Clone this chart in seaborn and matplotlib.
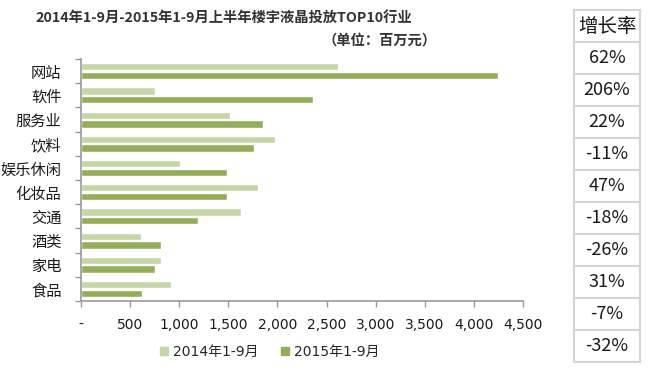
import numpy as np
import pandas as pd
import matplotlib
matplotlib.use('Agg')
import matplotlib.pyplot as plt
from matplotlib.patches import Rectangle
from matplotlib.ticker import FuncFormatter
import seaborn as sns

sns.set_theme(style='white')
plt.rcParams['font.family'] = ['Noto Sans CJK SC', 'DejaVu Sans']
num_font = ['DejaVu Sans', 'Noto Sans CJK SC']

# data
industries = ['网站', '软件', '服务业', '饮料', '娱乐休闲', '化妆品', '交通', '酒类', '家电', '食品']
y2014 = [2620, 750, 1515, 1980, 1010, 1805, 1625, 610, 810, 915]
y2015 = [4250, 2365, 1850, 1760, 1485, 1485, 1190, 810, 750, 625]
series = ['2014年1-9月', '2015年1-9月']
growth = ['62%', '206%', '22%', '-11%', '47%', '-18%', '-26%', '31%', '-7%', '-32%']
colors = ['#c5d6a6', '#93ad58']

df = pd.DataFrame({
    'industry': industries * 2,
    'value': y2014 + y2015,
    'period': [series[0]] * len(industries) + [series[1]] * len(industries),
})

fig = plt.figure(figsize=(6.5, 3.75), dpi=100)
ax = fig.add_axes([0.1246, 0.1973, 0.68, 0.6453])

sns.barplot(data=df, y='industry', x='value', hue='period', hue_order=series,
            order=industries, palette=colors, orient='h', width=0.72,
            ax=ax, legend=False, saturation=1)

# small gap between the two bars of a group
for p in ax.patches:
    h = p.get_height()
    p.set_height(h * 0.84)
    p.set_y(p.get_y() + h * 0.08)

ax.set_xlim(0, 4500)
ax.set_ylim(9.5, -0.5)
ax.set_xticks(np.arange(0, 4501, 500))
ax.xaxis.set_major_formatter(FuncFormatter(lambda v, pos: '-' if v == 0 else f'{int(v):,}'))
ax.set_xlabel('')
ax.set_ylabel('')

ax.set_yticks(np.arange(-0.5, 10, 1), minor=True)
ax.tick_params(axis='y', which='major', length=0, pad=14, labelsize=11, colors='#1a1a1a')
ax.tick_params(axis='y', which='minor', length=4, width=1, color='#999999', direction='out', left=True)
ax.tick_params(axis='x', length=4, width=1, color='#999999', direction='out', bottom=True,
               labelsize=10, pad=8, labelcolor='#1a1a1a')
for t in ax.get_xticklabels():
    t.set_family(num_font)

for s in ['top', 'right']:
    ax.spines[s].set_visible(False)
for s in ['left', 'bottom']:
    ax.spines[s].set_color('#999999')
    ax.spines[s].set_linewidth(1.2)

# titles
fig.text(35 / 650, 1 - 18 / 375, '2014年1-9月-2015年1-9月上半年楼宇液晶投放TOP10行业',
         ha='left', va='center', fontsize=10.3, fontweight='bold', color='#333333')
fig.text(437 / 650, 1 - 41 / 375, '（单位：百万元）', ha='right', va='center',
         fontsize=10.3, fontweight='bold', color='#333333')

# legend
handles = [Rectangle((0, 0), 1, 1, color=c) for c in colors]
fig.legend(handles, series, loc='center', bbox_to_anchor=(0.415, 1 - 352 / 375), ncol=2,
           frameon=False, handlelength=0.55, handleheight=0.55,
           handletextpad=0.4, columnspacing=1.6,
           prop={'family': num_font, 'size': 10})

# growth-rate table on the right
x0, x1 = 574 / 650, 640 / 650
row_h = 32 / 375
top = 1 - 10 / 375
labels = ['增长率'] + growth
for i, lab in enumerate(labels):
    yb = top - (i + 1) * row_h
    fig.add_artist(Rectangle((x0, yb), x1 - x0, row_h, transform=fig.transFigure,
                             facecolor='white', edgecolor='#d4d4d4', linewidth=1.5))
    fig.text((x0 + x1) / 2, yb + row_h / 2, lab, ha='center', va='center',
             fontsize=14 if i == 0 else 13, color='#1a1a1a')

fig.savefig('out.png', dpi=100)
